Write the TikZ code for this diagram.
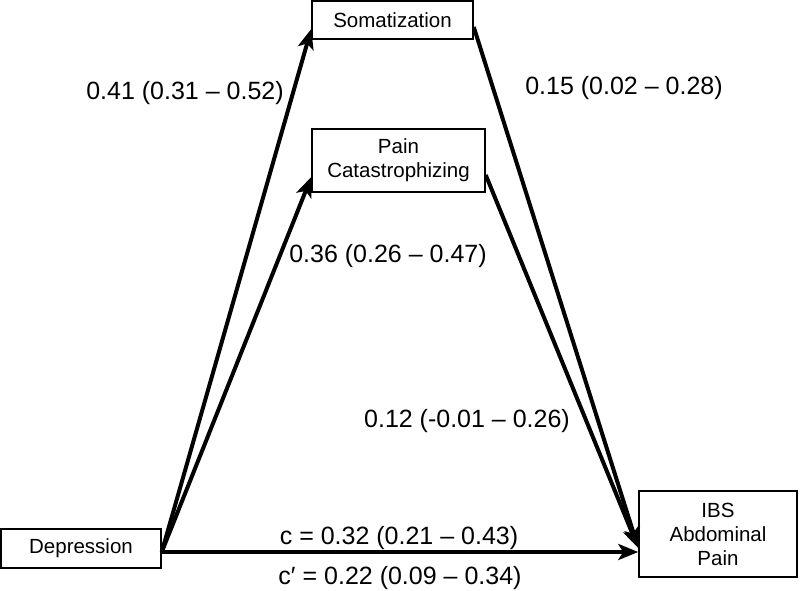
\documentclass[tikz,border=0pt]{standalone}
\usepackage{fontspec}
\setmainfont{Liberation Sans}
\usetikzlibrary{arrows.meta,calc}
\begin{document}
\begin{tikzpicture}[x=1pt,y=-1pt,
  box/.style={draw=black,line width=1.5pt,inner sep=0pt,align=center,font=\fontsize{20.5}{24}\selectfont},
  conn/.style={line width=4pt,-{Stealth[length=20pt,width=16pt,inset=5pt]}},
  lbl/.style={font=\fontsize{25}{29}\selectfont,inner sep=0pt}]
\useasboundingbox (0,0) rectangle (800,591);
\node[box,minimum width=161pt,minimum height=38pt] (som) at (392.5,20) {Somatization};
\node[box,minimum width=173pt,minimum height=63pt] (pain) at (398.5,160.5) {Pain\\Catastrophizing};
\node[box,minimum width=160pt,minimum height=39pt] (dep) at (81,548.5) {Depression};
\node[box,minimum width=158pt,minimum height=86pt] (ibs) at (718,534) {IBS\\Abdominal\\Pain};
\coordinate (d0) at ($(dep.east)+(0,3.5)$);
\draw[conn] (d0) -- ($(som.west)+(0,9)$);
\draw[conn] (d0) -- ($(pain.west)+(0,16.5)$);
\draw[conn] ($(som.east)+(0,7)$) -- ($(ibs.west)+(0,14)$);
\draw[conn] ($(pain.east)+(0,14.5)$) -- ($(ibs.west)+(0,14)$);
\draw[conn] (d0) -- ($(ibs.west)+(0,18)$);
\node[lbl] (l1) at (185,93) {0.41 (0.31 – 0.52)};
\node[lbl] (l2) at (624,88) {0.15 (0.02 – 0.28)};
\node[lbl] (l3) at (388,256) {0.36 (0.26 – 0.47)};
\node[lbl] (l4) at (467,421) {0.12 (-0.01 – 0.26)};
\node[lbl] (l5) at (399,538) {c = 0.32 (0.21 – 0.43)};
\node[lbl] (l6) at (400,578) {c′ = 0.22 (0.09 – 0.34)};
\end{tikzpicture}
\end{document}
